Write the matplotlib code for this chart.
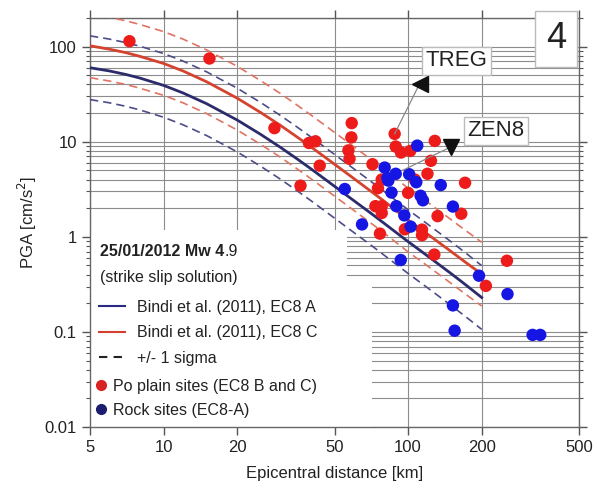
#PGA vs epicentral distance for the 25/01/2012 event, with Bindi et al. (2011) curves
import numpy as np
import matplotlib.pyplot as plt
from matplotlib.ticker import FixedLocator, NullLocator, LogLocator, FuncFormatter
from matplotlib.lines import Line2D
from matplotlib.patches import Rectangle

plt.rcParams["font.family"] = ["Liberation Sans", "DejaVu Sans"]

#median curves (distance km, PGA cm/s2)
dist = [5, 6, 7, 8, 10, 12, 15, 20, 25, 30, 35, 40, 50, 60, 70, 80, 100, 120, 150, 170, 200]
pga_ec8a = [60, 55.5, 51, 46.7, 39.1, 32.6, 25.1, 16.9, 11.9, 8.75, 6.65, 5.2,
            3.4, 2.4, 1.79, 1.38, 0.89, 0.63, 0.41, 0.32, 0.230]
pga_ec8c = [102, 94, 86.5, 79, 66.5, 55.5, 42.7, 28.7, 20.2, 14.9, 11.3, 8.85,
            5.8, 4.1, 3.05, 2.36, 1.5, 1.07, 0.70, 0.55, 0.405]
sigma_log10 = 0.335  # +/- 1 sigma band

#observed PGA
po_dist = [7.25, 15.4, 28.4, 36.3, 39.3, 41.8, 43.5, 58.8, 58.6, 57.0, 57.6, 71.5,
           88.1, 89, 93.5, 102, 128.6, 124, 120, 106.5, 171, 100, 75.3, 78,
           73.5, 78, 78, 76.7, 97, 114, 114, 132, 165, 128, 253.6, 208]
po_pga = [114, 75, 13.9, 3.45, 9.7, 10.1, 5.6, 15.7, 11.1, 8.1, 6.6, 5.8,
          12.1, 8.9, 7.7, 8.0, 10.2, 6.3, 4.6, 4.0, 3.7, 2.9, 3.25, 4.0,
          2.1, 2.1, 1.78, 1.08, 1.2, 1.19, 1.04, 1.65, 1.75, 0.65, 0.56, 0.305]
rock_dist = [55.1, 80.2, 89, 82.3, 83.0, 85.5, 89.5, 109, 101, 108, 136, 112.5,
             115, 152.5, 96.5, 102.4, 64.8, 93.3, 195, 255, 152.5, 155, 323, 347]
rock_pga = [3.18, 5.35, 4.6, 4.15, 3.9, 2.92, 2.1, 9.1, 4.55, 3.75, 3.5, 2.7,
            2.42, 2.08, 1.68, 1.28, 1.35, 0.57, 0.39, 0.25, 0.19, 0.103, 0.093, 0.093]

#station labels: (label, station point, arrow tip, label position)
stations = [("TREG", (88.1, 12.1), (111.5, 40.8), (158, 71)),
            ("ZEN8", (95, 5.0), (150, 8.85), (229, 13.1))]

xticks = [5, 10, 20, 50, 100, 200, 500]
yticks = [0.01, 0.1, 1, 10, 100]

blue_line = "#2c2c6c"
red_line = "#d5432f"
blue_dash = "#4c4c88"
red_dash = "#e07462"
red_dot = "#ee1b1b"
blue_dot = "#1515e4"
grid_c = "#8c8c8c"

fig = plt.figure(figsize=(5.97, 4.93), dpi=100)
ax = fig.add_axes([90 / 597, 1 - 427 / 493, 489 / 597, 409 / 493])
ax.set_xscale("log")
ax.set_yscale("log")
ax.set_xlim(5, 500)
ax.set_ylim(0.01, 200)

d = np.array(dist)
fa = np.array(pga_ec8a)
fc = np.array(pga_ec8c)
s = 10 ** sigma_log10
ax.plot(d, fa * s, color=blue_dash, lw=1.2, ls=(0, (5, 3)), zorder=3)
ax.plot(d, fa / s, color=blue_dash, lw=1.2, ls=(0, (5, 3)), zorder=3)
ax.plot(d, fc * s, color=red_dash, lw=1.2, ls=(0, (5, 3)), zorder=3)
ax.plot(d, fc / s, color=red_dash, lw=1.2, ls=(0, (5, 3)), zorder=3)
ax.plot(d, fa, color=blue_line, lw=2, zorder=3)
ax.plot(d, fc, color=red_line, lw=2, zorder=3)

ax.scatter(po_dist, po_pga, s=80, color=red_dot, edgecolors="none", zorder=4)
ax.scatter(rock_dist, rock_pga, s=80, color=blue_dot, edgecolors="none", zorder=4)

#station annotations
for name, pt, tip, lab in stations:
    ax.plot([pt[0], tip[0]], [pt[1], tip[1]], color="#888888", lw=0.9, zorder=5)
    ax.text(lab[0], lab[1], name, fontsize=16, ha="center", va="center", color="#222222",
            zorder=6, bbox=dict(facecolor="white", edgecolor="#bbbbbb", pad=2.5))
ax.plot(*stations[0][2], marker="<", ms=11, color="#111111", zorder=6)
ax.plot(*stations[1][2], marker="v", ms=11, color="#111111", zorder=6)

#panel number
ax.text(0.953, 0.949, "4", transform=ax.transAxes, fontsize=26, ha="center", va="center",
        color="#222222", zorder=6,
        bbox=dict(facecolor="white", edgecolor="#bbbbbb", boxstyle="square,pad=0.3"))

#axes formatting
ax.xaxis.set_major_locator(FixedLocator(xticks))
ax.xaxis.set_minor_locator(NullLocator())
ax.xaxis.set_major_formatter(FuncFormatter(lambda v, p: f"{v:g}"))
ax.yaxis.set_major_locator(FixedLocator(yticks))
ax.yaxis.set_minor_locator(LogLocator(base=10, subs=np.arange(2, 10)))
ax.yaxis.set_major_formatter(FuncFormatter(lambda v, p: f"{v:g}"))
ax.tick_params(which="both", direction="out", top=True, right=True, color="#555555",
               labelsize=12, labelcolor="#222222")
ax.tick_params(which="major", length=6, width=1)
ax.tick_params(which="minor", length=3, width=0.8)
ax.grid(True, which="both", axis="y", color=grid_c, lw=0.8, zorder=0)
ax.grid(True, which="major", axis="x", color=grid_c, lw=0.8, zorder=0)
for sp in ax.spines.values():
    sp.set_color("#666666")
    sp.set_linewidth(1)
ax.set_axisbelow(True)
ax.set_xlabel("Epicentral distance [km]", fontsize=12, color="#222222", labelpad=8)
ax.set_ylabel("PGA [cm/s$^2$]", fontsize=12, color="#222222", labelpad=4)

#white area behind the legend
ax.add_patch(Rectangle((0, 0.3594), 0.5256, 0.1223, transform=ax.transAxes,
                       facecolor="white", edgecolor="none", zorder=1))
ax.add_patch(Rectangle((0, 0), 0.5767, 0.3594, transform=ax.transAxes,
                       facecolor="white", edgecolor="none", zorder=1))

t1 = ax.text(0.0204, 0.4279, "25/01/2012 Mw 4", transform=ax.transAxes, fontsize=11.5,
             weight="bold", va="center", color="#222222", zorder=6)
ax.annotate(".9", xy=(1, 0), xycoords=t1, va="bottom", ha="left", fontsize=11.5,
            color="#222222", zorder=6)
ax.text(0.0204, 0.3667, "(strike slip solution)", transform=ax.transAxes, fontsize=11.5,
        va="center", color="#222222", zorder=6)

line_handles = [Line2D([], [], color="#2a2a82", lw=1.5),
                Line2D([], [], color="#d2412e", lw=1.5),
                Line2D([], [], color="#222222", lw=1.5, ls=(0, (4, 3)))]
leg1 = ax.legend(line_handles, ["Bindi et al. (2011), EC8 A", "Bindi et al. (2011), EC8 C",
                                "+/- 1 sigma"],
                 loc="upper left", bbox_to_anchor=(0.0184, 0.3105), frameon=False,
                 fontsize=11.5, handlelength=1.6, handletextpad=0.75, labelspacing=0.65,
                 borderpad=0, borderaxespad=0, labelcolor="#222222")
ax.add_artist(leg1)
dot_handles = [Line2D([], [], ls="none", marker="o", ms=7, color="#d92222"),
               Line2D([], [], ls="none", marker="o", ms=7, color="#1c1c6e")]
leg2 = ax.legend(dot_handles, ["Po plain sites (EC8 B and C)", "Rock sites (EC8-A)"],
                 loc="upper left", bbox_to_anchor=(0.012, 0.1175), frameon=False,
                 fontsize=11.5, handlelength=0.6, handletextpad=0.5, labelspacing=0.55,
                 borderpad=0, borderaxespad=0, labelcolor="#222222")
leg1.set_zorder(6)
leg2.set_zorder(6)

fig.savefig("out.png", dpi=100)
